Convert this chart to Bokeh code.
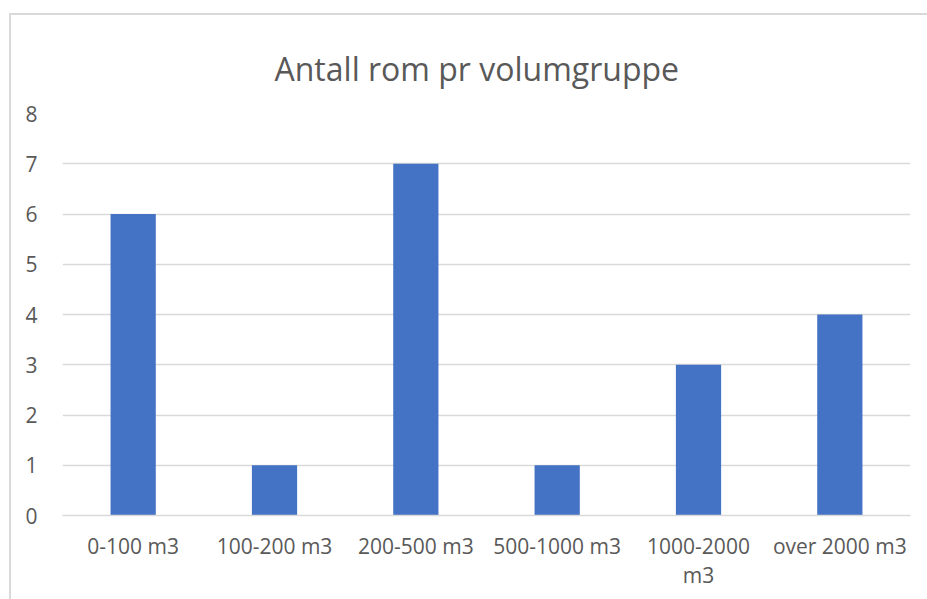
from bokeh.plotting import figure
from bokeh.models import Title, FactorRange
from bokeh.layouts import column
from bokeh.embed import file_html
from bokeh.resources import INLINE

categories = ["0-100 m3", "100-200 m3", "200-500 m3", "500-1000 m3", "1000-2000 m3", "over 2000 m3"]
tick_labels = ["0-100 m3", "100-200 m3", "200-500 m3", "500-1000 m3", "1000-2000\nm3", "over 2000 m3"]
counts = [6, 1, 7, 1, 3, 4]
y_ticks = [0, 1, 2, 3, 4, 5, 6, 7, 8]
title_text = "Antall rom pr volumgruppe"

FONT = "Open Sans"
TXT = "#595959"
GRID = "#d9d9d9"

W, H = 916, 584
p = figure(x_range=FactorRange(*tick_labels), y_range=(0, 8), width=W, height=H,
           output_backend="svg", toolbar_location=None,
           min_border_left=51, min_border_right=17, min_border_top=98, min_border_bottom=84)
p.title = None
t = Title(text=title_text, align="left", text_font=FONT, text_font_size="32px",
          text_color=TXT, text_font_style="normal", offset=212, standoff=44,
          vertical_align="top")
p.add_layout(t, "above")

p.vbar(x=tick_labels, top=counts, width=0.32, color="#4472C4", line_color=None)

p.outline_line_color = None
p.background_fill_color = "white"
p.border_fill_color = "white"

p.xgrid.grid_line_color = None
p.ygrid.grid_line_color = GRID
p.ygrid.grid_line_width = 1.5
p.yaxis.ticker = y_ticks
p.yaxis.axis_line_color = None
p.yaxis.major_tick_line_color = None
p.yaxis.minor_tick_line_color = None
p.yaxis.major_label_text_font = FONT
p.yaxis.major_label_text_font_size = "21px"
p.yaxis.major_label_text_color = TXT
p.yaxis.major_label_standoff = 19

p.xaxis.axis_line_color = GRID
p.xaxis.axis_line_width = 1.5
p.xaxis.major_tick_line_color = None
p.xaxis.minor_tick_line_color = None
p.xaxis.major_label_text_font = FONT
p.xaxis.major_label_text_font_size = "21px"
p.xaxis.major_label_text_color = TXT
p.xaxis.major_label_text_line_height = 1.05
p.xaxis.major_label_standoff = 10

lay = column(p, styles={"margin-left": "9px", "margin-top": "13px",
                        "border-left": "2px solid #d9d9d9", "border-top": "2px solid #d9d9d9"})

open("out.html", "w").write(file_html(lay, INLINE))
